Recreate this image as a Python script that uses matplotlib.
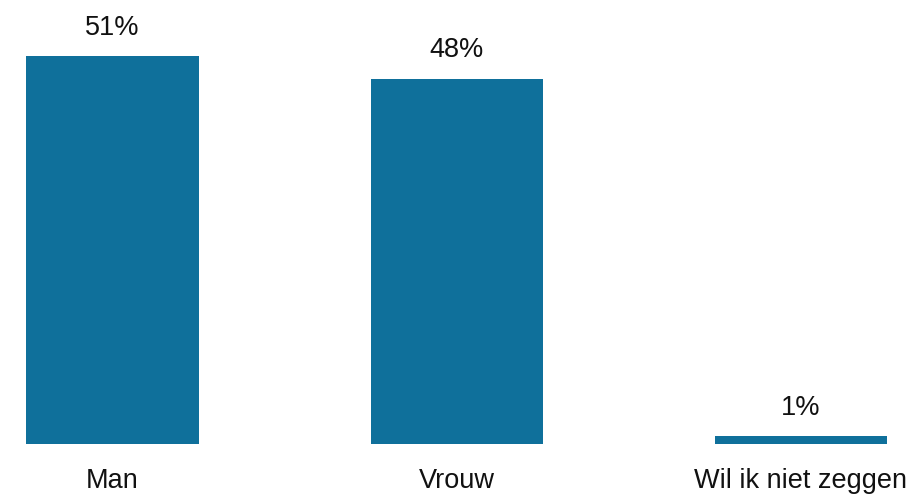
import matplotlib
matplotlib.use("Agg")
import matplotlib.pyplot as plt

categories = ["Man", "Vrouw", "Wil ik niet zeggen"]
values = [51, 48, 1]
labels = ["51%", "48%", "1%"]

plt.rcParams['font.family'] = ['Liberation Sans', 'DejaVu Sans']

fig = plt.figure(figsize=(9.2, 4.94), dpi=100)
ax = fig.add_axes([0, 0.1012, 1, 0.8934])

x = range(len(categories))
bars = ax.bar(x, values, width=0.5, color="#0f709b")

# value labels above the bars
ax.bar_label(bars, labels=labels, padding=11, fontsize=19.5, color="#111111")

ax.set_xlim(-0.327, 2.347)
ax.set_ylim(0, 58)
ax.set_xticks(list(x))
ax.set_xticklabels(categories, fontsize=19.5, color="#111111")
ax.tick_params(axis="x", length=0, pad=17)
ax.set_yticks([])
for s in ax.spines.values():
    s.set_visible(False)

fig.savefig("out.png", dpi=100)
